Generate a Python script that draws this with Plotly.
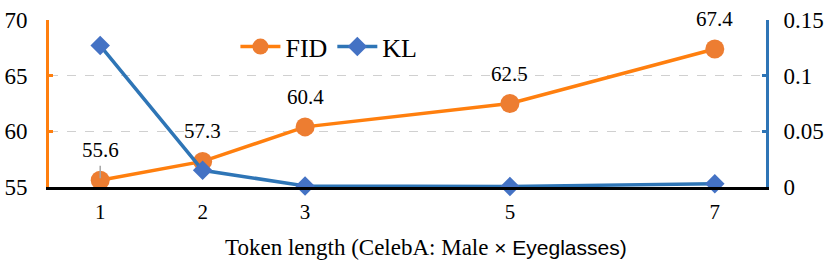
import plotly.graph_objects as go

token_length = [1, 2, 3, 5, 7]
fid = [55.6, 57.3, 60.4, 62.5, 67.4]
kl = [0.127, 0.015, 0.001, 0.0005, 0.003]
fid_labels = ["55.6", "57.3", "60.4", "62.5", "67.4"]
left_ticks = [55, 60, 65, 70]
right_ticks = [0, 0.05, 0.1, 0.15]

SERIF = "Liberation Serif"
SANS = "Liberation Sans"
ORANGE_LINE = "#FF7F0E"
ORANGE_MK = "#ED7D31"
BLUE_LINE = "#2E75B6"
BLUE_MK = "#4472C4"

fig = go.Figure()
fig.add_trace(go.Scatter(
    x=token_length, y=fid, name="FID", mode="lines+markers",
    line=dict(color=ORANGE_LINE, width=3.5),
    marker=dict(symbol="circle", size=19, color=ORANGE_MK),
    yaxis="y", cliponaxis=False,
))
fig.add_trace(go.Scatter(
    x=token_length, y=kl, name="KL", mode="lines+markers",
    line=dict(color=BLUE_LINE, width=3.5),
    marker=dict(symbol="diamond", size=15, color=BLUE_MK),
    yaxis="y2", cliponaxis=False,
))

annotations = []
for i, (xv, yv, lab) in enumerate(zip(token_length, fid, fid_labels)):
    annotations.append(dict(
        x=xv, y=yv, xref="x", yref="y", text=lab, showarrow=False,
        yshift=30, font=dict(family=SERIF, size=21, color="#000"),
    ))
# leader line for the first label
annotations.append(dict(
    x=token_length[0], y=fid[0], xref="x", yref="y", text="",
    showarrow=True, arrowhead=0, arrowwidth=1.5, arrowcolor="#A6A6A6",
    ax=0, ay=-16, standoff=2,
))
annotations.append(dict(
    x=0.526, y=-0.36, xref="paper", yref="paper", yanchor="middle",
    showarrow=False,
    text="Token length (CelebA: Male <span style='font-family:Liberation Sans;font-size:21px'>× Eyeglasses)</span>",
    font=dict(family=SERIF, size=23, color="#000"),
))

fig.update_layout(
    width=831, height=269,
    margin=dict(l=49, r=65, t=20, b=82, autoexpand=False),
    plot_bgcolor="white", paper_bgcolor="white",
    font=dict(family=SERIF, color="#000"),
    showlegend=True,
    legend=dict(
        orientation="h", x=0.26, y=0.84, xanchor="left", yanchor="middle",
        font=dict(family=SERIF, size=26, color="#000"),
        bgcolor="rgba(0,0,0,0)", itemwidth=40, tracegroupgap=0,
    ),
    annotations=annotations,
    xaxis=dict(
        range=[0.5, 7.5], tickvals=token_length, ticktext=[str(v) for v in token_length],
        showgrid=False, zeroline=False, showline=True, linecolor="#000", linewidth=3,
        ticks="", tickfont=dict(family=SERIF, size=21, color="#000"),
        ticklabelstandoff=4, automargin=False,
    ),
    yaxis=dict(
        range=[55, 70], tickvals=left_ticks, showgrid=True, gridcolor="#D0D0D0",
        griddash="dash", gridwidth=1.3, zeroline=False,
        showline=True, linecolor=ORANGE_LINE, linewidth=3,
        ticks="inside", ticklen=4, tickwidth=3, tickcolor=ORANGE_LINE,
        tickfont=dict(family=SERIF, size=23, color="#000"),
        ticklabelstandoff=14, automargin=False,
    ),
    yaxis2=dict(
        range=[0, 0.15], tickvals=right_ticks, ticktext=["0", "0.05", "0.1", "0.15"],
        overlaying="y", side="right", showgrid=False, zeroline=False,
        showline=True, linecolor=BLUE_LINE, linewidth=3,
        ticks="inside", ticklen=4, tickwidth=3, tickcolor=BLUE_LINE,
        tickfont=dict(family=SERIF, size=23, color="#000"),
        ticklabelstandoff=10, automargin=False,
    ),
)

fig.write_html(
    "out.html",
    config={"displayModeBar": False},
    post_script="document.body.style.margin='0';document.body.style.overflow='hidden';",
)
